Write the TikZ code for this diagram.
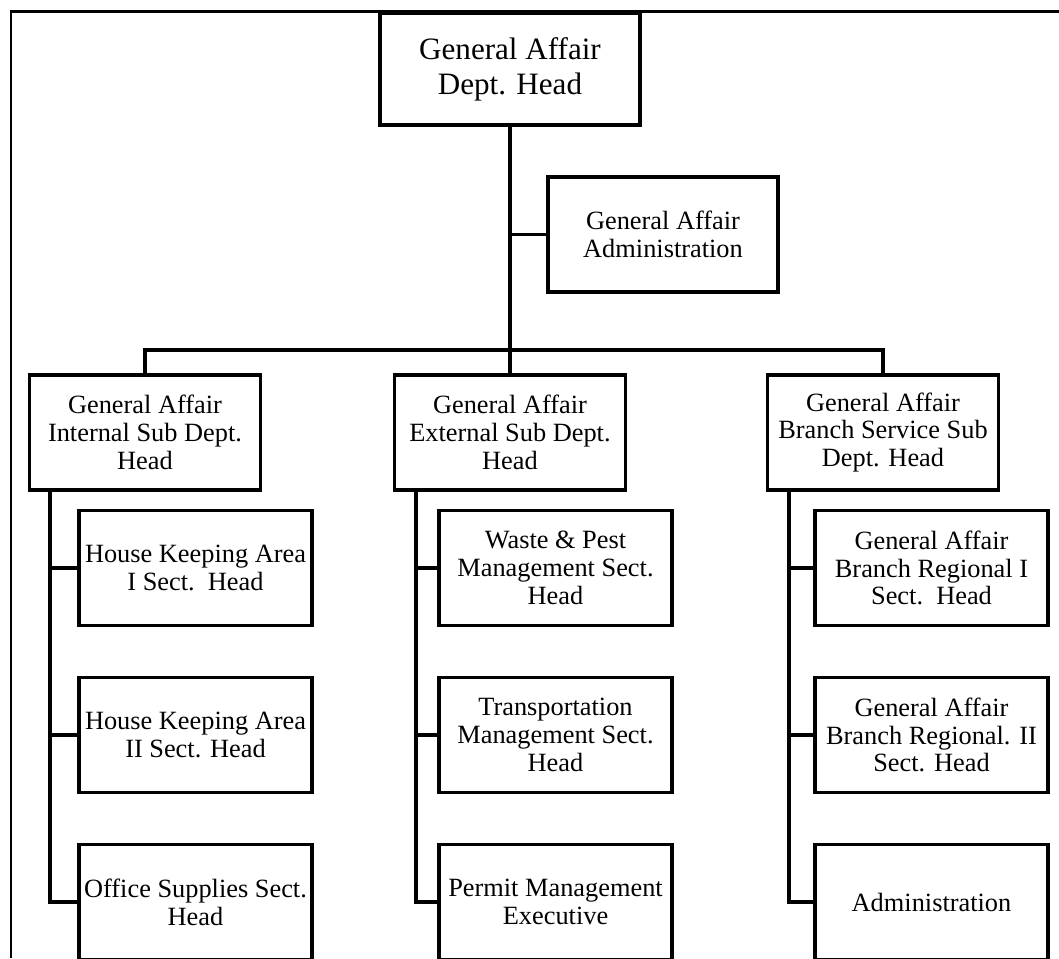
\documentclass[tikz,border=0pt]{standalone}
\usepackage{fontspec}
\setmainfont{Liberation Serif}
\usepackage{tikz}

\tikzset{
	box/.style={shape=rectangle, draw=black, line width=2.2pt, inner sep=0pt, align=center,
		font=\fontsize{15}{15.8}\selectfont},
	headbox/.style={box, minimum width=5.2cm, minimum height=2.24cm, font=\fontsize{17.7}{20}\selectfont},
	subbox/.style={box, minimum width=4.62cm, minimum height=2.3cm},
	sectbox/.style={box, minimum width=4.66cm, minimum height=2.3cm},
	link/.style={-, line width=2.2pt},
}

\begin{document}
\begin{tikzpicture}[x=0.02cm, y=-0.02cm]
	
	\clip (0,0) rectangle (1059,958);
	\draw[line width=1.7pt] (1059,11) -- (11,11) -- (11,958);
	
	\node[headbox] (gad) at (510, 69)    {General Affair\\Dept. Head};
	\node[box, minimum width=4.6cm, minimum height=2.3cm] (gaa) at (663, 234.5) {General Affair\\Administration};
	
	\node[subbox] (int) at (145, 432.5)  {General Affair\\Internal Sub Dept.\\Head};
	\node[subbox] (ext) at (510, 432.5)  {General Affair\\External Sub Dept.\\Head};
	\node[subbox] (brs) at (883, 432.5)  {General Affair\\Branch Service Sub\\Dept. Head};
	
	\node[sectbox] (hk1) at (195.5, 568) {House Keeping Area\\I Sect.~~Head};
	\node[sectbox] (hk2) at (195.5, 735) {House Keeping Area\\II Sect. Head};
	\node[sectbox] (ofs) at (195.5, 902) {Office Supplies Sect.\\Head};
	
	\node[sectbox] (wpm) at (555.5, 568) {Waste \& Pest\\Management Sect.\\Head};
	\node[sectbox] (trm) at (555.5, 735) {Transportation\\Management Sect.\\Head};
	\node[sectbox] (pme) at (555.5, 902) {Permit Management\\Executive};
	
	\node[sectbox] (br1) at (931.5, 568) {General Affair\\Branch Regional I\\Sect.~~Head};
	\node[sectbox] (br2) at (931.5, 735) {General Affair\\Branch Regional. II\\Sect. Head};
	\node[sectbox] (bra) at (931.5, 902) {Administration};
	
	\coordinate (bus) at (510, 350);
	\coordinate (intdrop) at (50, 492);
	\coordinate (extdrop) at (416, 492);
	\coordinate (brsdrop) at (789, 492);
	
	\path[link] (gad) edge (ext);
	\draw[link] (gad.south) |- (gaa.west);
	\draw[link] (int.north) |- (bus) -| (brs.north);
	
	\draw[link] (intdrop) |- (hk1.west) (intdrop) |- (hk2.west) (intdrop) |- (ofs.west);
	\draw[link] (extdrop) |- (wpm.west) (extdrop) |- (trm.west) (extdrop) |- (pme.west);
	\draw[link] (brsdrop) |- (br1.west) (brsdrop) |- (br2.west) (brsdrop) |- (bra.west);
	
\end{tikzpicture}
\end{document}
